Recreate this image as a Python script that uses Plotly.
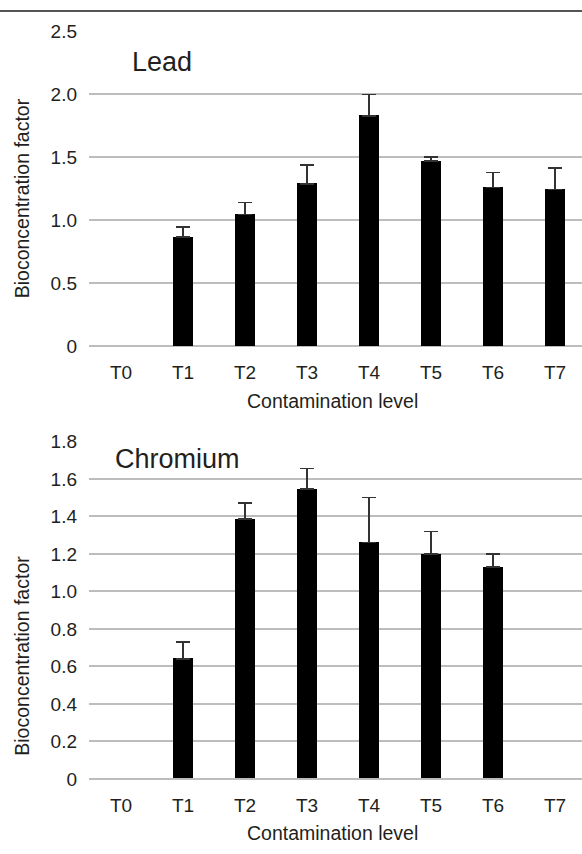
import plotly.graph_objects as go

categories = ["T0", "T1", "T2", "T3", "T4", "T5", "T6", "T7"]

# None = no bar drawn (zero / not detected)
lead_values = [None, 0.865, 1.045, 1.29, 1.83, 1.47, 1.26, 1.245]
lead_errors = [None, 0.08, 0.095, 0.15, 0.17, 0.03, 0.12, 0.17]

chromium_values = [None, 0.64, 1.385, 1.545, 1.26, 1.20, 1.13, None]
chromium_errors = [None, 0.09, 0.085, 0.11, 0.24, 0.12, 0.07, None]

lead_ticks = [0, 0.5, 1.0, 1.5, 2.0, 2.5]
lead_ticktext = ["0", "0.5", "1.0", "1.5", "2.0", "2.5"]
chromium_ticks = [0, 0.2, 0.4, 0.6, 0.8, 1.0, 1.2, 1.4, 1.6, 1.8]
chromium_ticktext = ["0", "0.2", "0.4", "0.6", "0.8", "1.0", "1.2", "1.4", "1.6", "1.8"]

W, H = 582, 854
FONT = "Liberation Sans, Arial, Helvetica, sans-serif"
TXT = "#231f20"
GRID = "#bdbdbd"

def err(e):
    return dict(type="data", symmetric=False, array=e,
                arrayminus=[None if v is None else 0 for v in e],
                color="#333333", thickness=1.6, width=7)

fig = go.Figure()
fig.add_trace(go.Bar(x=categories, y=lead_values, error_y=err(lead_errors),
                     marker=dict(color="black", line=dict(width=0)), width=0.315,
                     xaxis="x", yaxis="y", showlegend=False))
fig.add_trace(go.Bar(x=categories, y=chromium_values, error_y=err(chromium_errors),
                     marker=dict(color="black", line=dict(width=0)), width=0.315,
                     xaxis="x2", yaxis="y2", showlegend=False))

xdom = [89 / W, 1.0]
xrange_ = [-0.516, 7.435]
top_dom = [1 - 344.5 / H, 1 - 22 / H]
bot_dom = [1 - 788.3 / H, 1 - 442.3 / H]

xcommon = dict(domain=xdom, range=xrange_, showgrid=False, zeroline=False,
               showline=False, ticks="", tickfont=dict(size=19, color=TXT, family=FONT),
               ticklabelstandoff=13, fixedrange=True, type="category")
ycommon = dict(showgrid=True, gridcolor=GRID, gridwidth=1.5, zeroline=True,
               zerolinecolor=GRID, zerolinewidth=1.5, showline=False, ticks="",
               tickfont=dict(size=19, color=TXT, family=FONT), ticklabelstandoff=11,
               fixedrange=True)

fig.update_layout(
    width=W, height=H,
    margin=dict(l=0, r=0, t=0, b=0),
    paper_bgcolor="white", plot_bgcolor="white",
    font=dict(family=FONT, color=TXT),
    bargap=0,
    xaxis=dict(anchor="y", categoryorder="array", categoryarray=categories, **xcommon),
    yaxis=dict(anchor="x", domain=top_dom, range=[0, 2.5], tickvals=lead_ticks,
               ticktext=lead_ticktext, **ycommon),
    xaxis2=dict(anchor="y2", categoryorder="array", categoryarray=categories, **xcommon),
    yaxis2=dict(anchor="x2", domain=bot_dom, range=[0, 1.8], tickvals=chromium_ticks,
                ticktext=chromium_ticktext, **ycommon),
    shapes=[dict(type="line", xref="paper", yref="paper", x0=0, x1=1, y0=1 - 1 / H, y1=1 - 1 / H,
                 line=dict(color="#555555", width=2))],
    annotations=[
        dict(text="Lead", xref="paper", yref="paper", x=130 / W, y=1 - 53 / H,
             xanchor="left", yanchor="middle", showarrow=False,
             font=dict(size=27, color=TXT, family=FONT)),
        dict(text="Chromium", xref="paper", yref="paper", x=113 / W, y=1 - 460 / H,
             xanchor="left", yanchor="middle", showarrow=False,
             font=dict(size=27, color=TXT, family=FONT)),
        dict(text="Bioconcentration factor", xref="paper", yref="paper", x=22 / W, y=1 - 193 / H,
             xanchor="center", yanchor="middle", textangle=-90, showarrow=False,
             font=dict(size=19.5, color=TXT, family=FONT)),
        dict(text="Bioconcentration factor", xref="paper", yref="paper", x=22 / W, y=1 - 662 / H,
             xanchor="center", yanchor="middle", textangle=-90, showarrow=False,
             font=dict(size=19.5, color=TXT, family=FONT)),
        dict(text="Contamination level", xref="paper", yref="paper", x=(89 + 582) / 2 / W - 0.005,
             y=1 - 401 / H, xanchor="center", yanchor="middle", showarrow=False,
             font=dict(size=19.5, color=TXT, family=FONT)),
        dict(text="Contamination level", xref="paper", yref="paper", x=(89 + 582) / 2 / W - 0.005,
             y=1 - 844 / H, xanchor="center", yanchor="middle", showarrow=False,
             font=dict(size=19.5, color=TXT, family=FONT)),
    ],
)

fig.write_html("out.html")
